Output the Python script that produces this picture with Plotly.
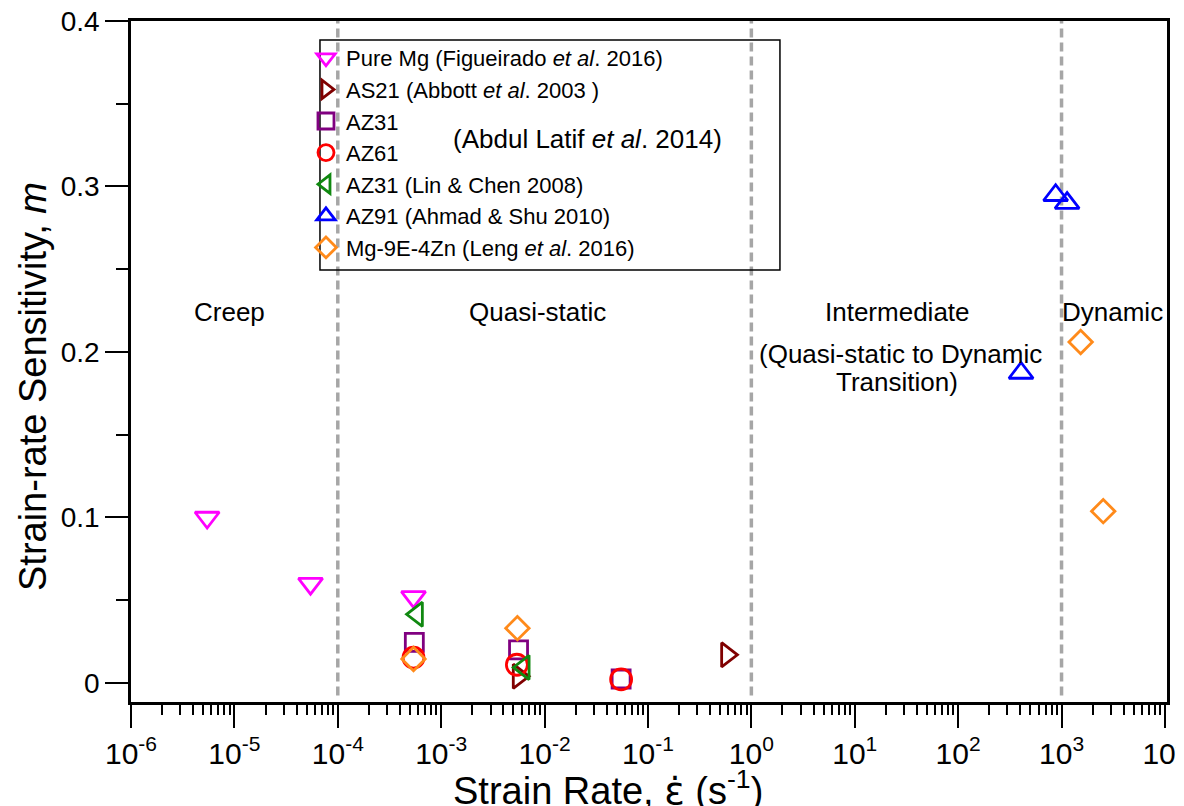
import plotly.graph_objects as go

# ---------------- data ----------------
pure_mg_x = [5.45e-6, 5.45e-5, 5.4e-4]
pure_mg_y = [0.100, 0.060, 0.052]

as21_x = [5.6e-3, 0.58]
as21_y = [0.004, 0.017]

az31_latif_x = [5.5e-4, 5.6e-3, 0.055]
az31_latif_y = [0.0245, 0.020, 0.0024]

az61_latif_x = [5.4e-4, 5.4e-3, 0.055]
az61_latif_y = [0.0153, 0.011, 0.0022]

az31_lin_x = [5.85e-4, 6.3e-3]
az31_lin_y = [0.0415, 0.0094]

az91_x = [877, 1132, 406]
az91_y = [0.2947, 0.290, 0.1873]

mg9e_x = [5.4e-4, 5.46e-3, 1531, 2530]
mg9e_y = [0.0145, 0.0331, 0.206, 0.1038]

region_bounds = [1e-4, 1.0, 1e3]

series_names = [
    "Pure Mg (Figueirado <i>et al</i>. 2016)",
    "AS21 (Abbott <i>et al</i>. 2003 )",
    "AZ31",
    "AZ61",
    "AZ31 (Lin & Chen 2008)",
    "AZ91 (Ahmad & Shu 2010)",
    "Mg-9E-4Zn (Leng <i>et al</i>. 2016)",
]
x_tick_exps = list(range(-6, 5))
y_ticks = [0, 0.1, 0.2, 0.3, 0.4]
y_ticktext = ["0", "0.1", "0.2", "0.3", "0.4"]

Y_MIN, Y_MAX = -0.0115, 0.4
FONT = "Arial, Liberation Sans, sans-serif"

fig = go.Figure()

# region boundary dashed lines
for xb in region_bounds:
    fig.add_trace(go.Scatter(
        x=[xb, xb], y=[Y_MIN + 0.004, Y_MAX], mode="lines",
        line=dict(color="#A6A6A6", width=3.5, dash="9px,5px"),
        showlegend=False, hoverinfo="skip"))

series = [
    (pure_mg_x, pure_mg_y, "triangle-down-open", "#FF00FF", 21),
    (as21_x, as21_y, "triangle-right-open", "#800000", 21),
    (az31_latif_x, az31_latif_y, "square-open", "#800080", 18),
    (az61_latif_x, az61_latif_y, "circle-open", "#FF0000", 21),
    (az31_lin_x, az31_lin_y, "triangle-left-open", "#108810", 21),
    (az91_x, az91_y, "triangle-up-open", "#0000FF", 21),
    (mg9e_x, mg9e_y, "diamond-open", "#FF8A1A", 18),
]
for i, (xs, ys, sym, col, sz) in enumerate(series):
    fig.add_trace(go.Scatter(
        x=xs, y=ys, mode="markers", name=series_names[i],
        marker=dict(symbol=sym, size=sz, color=col,
                    line=dict(color=col, width=2.8))))

# minor ticks for log x-axis
minor_x = [k * 10.0 ** e for e in range(-6, 4) for k in range(2, 10)]

fig.update_xaxes(
    type="log", range=[-6, 4.02], automargin=False,
    tickmode="array",
    tickvals=[10.0 ** e for e in x_tick_exps],
    ticktext=["10<sup>%d</sup>" % e for e in x_tick_exps],
    ticks="outside", ticklen=23, tickwidth=2, tickcolor="black",
    minor=dict(tickvals=minor_x, ticks="outside", ticklen=10,
               tickwidth=2, tickcolor="black"),
    showline=True, linewidth=2.5, linecolor="black", mirror=True,
    showgrid=False, zeroline=False, ticklabeloverflow="allow",
    tickfont=dict(family=FONT, size=30, color="black"),
)
fig.update_yaxes(
    range=[Y_MIN, Y_MAX], automargin=False,
    tickmode="array", tickvals=y_ticks, ticktext=y_ticktext,
    ticks="outside", ticklen=23, tickwidth=2, tickcolor="black",
    minor=dict(dtick=0.05, ticks="outside", ticklen=12, tickwidth=2,
               tickcolor="black"),
    showline=True, linewidth=2.5, linecolor="black", mirror=True,
    showgrid=False, zeroline=False, ticklabeloverflow="allow",
    tickfont=dict(family=FONT, size=28, color="black"),
)

# axis titles
fig.add_annotation(
    x=0.4604, y=-0.127, xref="paper", yref="paper",
    text="Strain Rate, <span style='font-family:DejaVu Sans'>\u03b5\u0307</span>"
         " (s<sup>-1</sup>)",
    showarrow=False, xanchor="center", yanchor="middle",
    font=dict(family=FONT, size=38, color="black"))
fig.add_annotation(x=-0.0946, y=0.464, xref="paper", yref="paper",
                   text="Strain-rate Sensitivity, <i>m</i>", textangle=-90,
                   showarrow=False, xanchor="center", yanchor="middle",
                   font=dict(family=FONT, size=38, color="black"))

# region labels
region_labels = [
    ("Creep", -5.05, 0.224),
    ("Quasi-static", -2.07, 0.224),
    ("Intermediate", 1.41, 0.224),
    ("(Quasi-static to Dynamic", 1.44, 0.1985),
    ("Transition)", 1.41, 0.182),
    ("Dynamic", 3.49, 0.224),
]
for txt, lx, ly in region_labels:
    fig.add_annotation(x=lx, y=ly, xref="x", yref="y", text=txt,
                       showarrow=False, xanchor="center", yanchor="middle",
                       font=dict(family=FONT, size=26, color="black"))

fig.add_annotation(x=0.4402, y=0.8267, xref="paper", yref="paper",
                   text="(Abdul Latif <i>et al</i>. 2014)", showarrow=False,
                   xanchor="center", yanchor="middle",
                   font=dict(family=FONT, size=26, color="black"))

# legend frame (transparent, as in the reference)
fig.add_shape(type="rect", xref="paper", yref="paper",
              x0=0.1824, x1=0.6264, y0=0.6344, y1=0.9721,
              line=dict(color="black", width=1.5), fillcolor="rgba(0,0,0,0)",
              layer="above")

# the page body adds an 8px offset; margins compensate for it
fig.update_layout(
    width=1184, height=806,
    margin=dict(l=123, r=25, t=13, b=112, autoexpand=False),
    paper_bgcolor="white", plot_bgcolor="white",
    font=dict(family=FONT, color="black"),
    legend=dict(x=0.1689, y=0.9765, xanchor="left", yanchor="top",
                borderwidth=0, bgcolor="rgba(0,0,0,0)",
                font=dict(family=FONT, size=22, color="black"),
                traceorder="normal"),
)

fig.write_html("out.html")
